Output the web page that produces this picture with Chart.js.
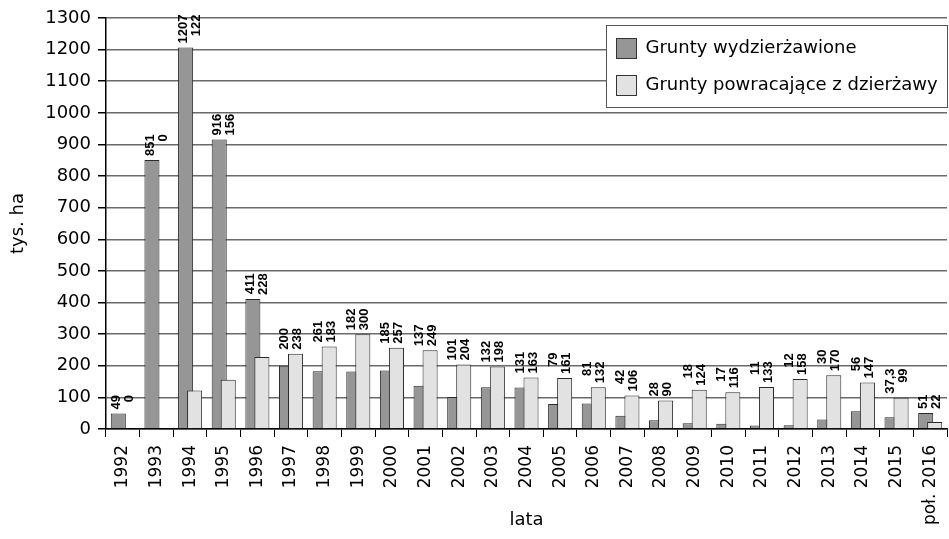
<!DOCTYPE html>
<html>
<head>
<meta charset="utf-8">
<script src="https://cdn.jsdelivr.net/npm/chart.js@4.4.1/dist/chart.umd.min.js"></script>
<style>
    html, body { margin: 0; padding: 0; background: #fff; }
</style>
</head>
<body>
<canvas id="leaseChart" width="949" height="539"></canvas>
<script>
/* ---- Data ---- */
const YEARS = ['1992', '1993', '1994', '1995', '1996', '1997', '1998', '1999', '2000', '2001',
    '2002', '2003', '2004', '2005', '2006', '2007', '2008', '2009', '2010', '2011',
    '2012', '2013', '2014', '2015', 'poł. 2016'];

const SERIES_NAMES = ['Grunty wydzierżawione', 'Grunty powracające z dzierżawy'];

// bar heights as drawn (tys. ha)
const LEASED = [49, 851, 1207, 916, 411, 200, 183, 182, 185, 137, 101, 132, 131, 79, 81,
    42, 28, 18, 17, 11, 12, 30, 56, 37.3, 51];
const RETURNED = [0, 0, 122, 156, 228, 238, 261, 300, 257, 249, 204, 198, 163, 161, 132,
    106, 90, 124, 116, 133, 158, 170, 147, 99, 22];

// value labels as printed above each pair
const LEASED_TEXT = ['49', '851', '1207', '916', '411', '200', '261', '182', '185', '137', '101',
    '132', '131', '79', '81', '42', '28', '18', '17', '11', '12', '30', '56', '37,3', '51'];
const RETURNED_TEXT = ['0', '0', '122', '156', '228', '238', '183', '300', '257', '249', '204',
    '198', '163', '161', '132', '106', '90', '124', '116', '133', '158', '170', '147', '99', '22'];

const Y_MIN = 0;
const Y_MAX = 1300;
const Y_STEP = 100;

const DARK = '#969696';
const LIGHT = '#e2e2e2';
const FONT = "'DejaVu Sans', sans-serif";

/* ---- Draw the dark bars underneath the light ones ---- */
const drawOrder = {
    id: 'drawOrder',
    beforeDatasetDraw(chart, args) {
        if (args.index === 0) return false;
        if (args.index === 1) chart.getDatasetMeta(0).controller.draw();
    }
};

/* ---- Value labels above bars (rotated, two lines) ---- */
const pairLabels = {
    id: 'pairLabels',
    afterDatasetsDraw(chart) {
        const ctx = chart.ctx;
        const m0 = chart.getDatasetMeta(0).data;
        const m1 = chart.getDatasetMeta(1).data;
        const xScale = chart.scales.x;
        ctx.save();
        ctx.font = "bold 13px 'Liberation Sans', sans-serif";
        ctx.fillStyle = '#000';
        ctx.textBaseline = 'middle';
        ctx.textAlign = 'right';
        YEARS.forEach((_, i) => {
            const top = Math.min(m0[i].y, m1[i].y);
            const cx = xScale.getPixelForValue(i);
            const a = LEASED_TEXT[i], b = RETURNED_TEXT[i];
            const w = Math.max(ctx.measureText(a).width, ctx.measureText(b).width);
            ctx.save();
            ctx.translate(cx, top - 4);
            ctx.rotate(-Math.PI / 2);
            ctx.fillText(a, w, -6.5);
            ctx.fillText(b, w, 6.5);
            ctx.restore();
        });
        ctx.restore();
    }
};

/* ---- Boxed legend inside plot ---- */
const boxLegend = {
    id: 'boxLegend',
    afterDraw(chart) {
        const ctx = chart.ctx;
        const area = chart.chartArea;
        const w = 341, h = 82;
        const x = area.right - w + 0.5, y = area.top + 7.5;
        ctx.save();
        ctx.fillStyle = '#fff';
        ctx.fillRect(x, y, w, h);
        ctx.strokeStyle = '#555';
        ctx.lineWidth = 1;
        ctx.strokeRect(x, y, w, h);
        ctx.font = '18px ' + FONT;
        ctx.textBaseline = 'middle';
        ctx.textAlign = 'left';
        const fills = [DARK, LIGHT];
        SERIES_NAMES.forEach((name, i) => {
            const sy = y + 13 + i * 37;
            ctx.fillStyle = fills[i];
            ctx.fillRect(x + 10, sy, 20, 20);
            ctx.strokeStyle = '#333';
            ctx.strokeRect(x + 10, sy, 20, 20);
            ctx.fillStyle = '#000';
            ctx.fillText(name, x + 39, sy + 10);
        });
        ctx.restore();
    }
};

new Chart(document.getElementById('leaseChart'), {
    type: 'bar',
    data: {
        labels: YEARS,
        datasets: [
            {
                label: SERIES_NAMES[0],
                data: LEASED,
                backgroundColor: DARK,
                borderColor: '#2a2a2a',
                borderWidth: 1,
                categoryPercentage: 0.536,
                barPercentage: 1.67,
            },
            {
                label: SERIES_NAMES[1],
                data: RETURNED,
                backgroundColor: LIGHT,
                borderColor: '#2a2a2a',
                borderWidth: 1,
                categoryPercentage: 0.536,
                barPercentage: 1.67,
            },
        ]
    },
    options: {
        responsive: false,
        devicePixelRatio: 1,
        animation: false,
        layout: { padding: { top: 18, right: 2, left: 0, bottom: 0 } },
        plugins: {
            legend: { display: false },
            tooltip: { enabled: false },
        },
        scales: {
            x: {
                afterFit: (s) => {
                    s.height = 110;
                    s.paddingLeft = 0;
                    s.paddingRight = 0;
                },
                ticks: {
                    minRotation: 90,
                    maxRotation: 90,
                    autoSkip: false,
                    padding: 8,
                    color: '#000',
                    font: { family: FONT, size: 17 },
                },
                grid: {
                    offset: true,
                    drawOnChartArea: false,
                    drawTicks: true,
                    tickLength: 8,
                    color: '#000',
                },
                border: { color: '#000', width: 1.5 },
                title: {
                    display: true,
                    text: 'lata',
                    color: '#000',
                    font: { family: FONT, size: 18 },
                    padding: { top: 0, bottom: 8 },
                },
            },
            y: {
                min: Y_MIN,
                max: Y_MAX,
                afterFit: (s) => { s.width = 106; },
                ticks: {
                    stepSize: Y_STEP,
                    padding: 7,
                    color: '#000',
                    font: { family: FONT, size: 18 },
                    callback: (v) => String(v),
                },
                grid: {
                    color: '#6a6a6a',
                    lineWidth: 1.5,
                    tickLength: 8,
                    tickColor: '#000',
                },
                border: { color: '#000', width: 1.5 },
                title: {
                    display: true,
                    text: 'tys. ha',
                    color: '#000',
                    font: { family: FONT, size: 18 },
                    padding: { top: 8, bottom: 0 },
                },
            }
        }
    },
    plugins: [drawOrder, pairLabels, boxLegend]
});
</script>
</body>
</html>
